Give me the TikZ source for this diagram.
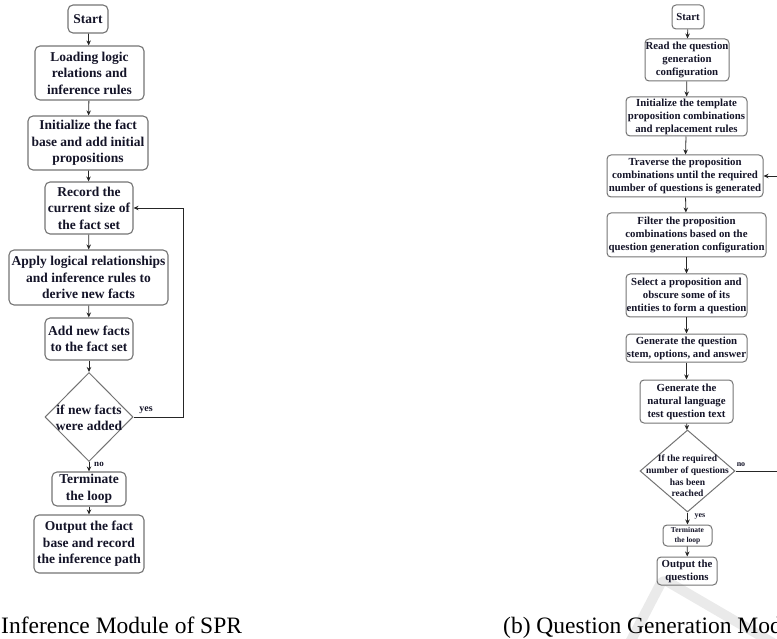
\documentclass[tikz,border=0pt]{standalone}
\usepackage{fontspec}
\setmainfont{Liberation Serif}
\usetikzlibrary{shapes.geometric,arrows.meta}
\definecolor{txt}{RGB}{20,20,40}
\definecolor{bord}{RGB}{115,115,115}
\definecolor{wm}{RGB}{234,234,234}
\begin{document}
\begin{tikzpicture}[x=1pt,y=-1pt,
  lbox/.style={draw=bord, line width=1.1pt, rounded corners=5pt, align=center, inner sep=0pt, text=txt,
    font=\bfseries\fontsize{13.5}{16.5}\selectfont},
  rbox/.style={draw=bord, line width=1pt, rounded corners=4pt, align=center, inner sep=0pt, text=txt,
    font=\bfseries\fontsize{10.8}{13}\selectfont},
  dia/.style={draw=bord, line width=1pt, diamond, inner sep=0pt},
  arr/.style={-{Stealth[length=5pt,width=4.5pt]}, line width=0.8pt, draw=black!85},
  lbl/.style={font=\bfseries\fontsize{8}{9}\selectfont, text=txt, inner sep=0pt},
  capt/.style={font=\fontsize{23.5}{26}\selectfont, inner sep=0pt, anchor=base west}]
\useasboundingbox (0,0) rectangle (777,639);
\clip (0,0) rectangle (777,639);
% watermark
\draw[wm, line width=10pt, rounded corners=6pt] (626,650) -- (663,579) -- (785,650);
% ---------- left chart ----------
\node[lbox, minimum width=40, minimum height=28] (lstart) at (88,19) {Start};
\node[lbox, minimum width=109, minimum height=54] (lload) at (89.5,73) {Loading logic\\relations and\\inference rules};
\node[lbox, minimum width=120, minimum height=54] (linit) at (88,143) {Initialize the fact\\base and add initial\\propositions};
\node[lbox, minimum width=88, minimum height=52] (lrec) at (89,208) {Record the\\current size of\\the fact set};
\node[lbox, minimum width=159, minimum height=55] (lapp) at (88.5,277.5) {Apply logical relationships\\and inference rules to\\derive new facts};
\node[lbox, minimum width=88, minimum height=42] (ladd) at (89,339) {Add new facts\\to the fact set};
\node[dia, minimum width=88, minimum height=89] (ldec) at (89,417) {};
\node[align=center, inner sep=0pt, text=txt, font=\bfseries\fontsize{13.5}{16.5}\selectfont] (ldect) at (89,418) {if new facts\\were added};
\node[lbox, minimum width=74, minimum height=34] (lterm) at (89,489) {Terminate\\the loop};
\node[lbox, minimum width=110, minimum height=58] (lout) at (89,544) {Output the fact\\base and record\\the inference path};
\draw[arr] (lstart) -- (lload);
\draw[arr] (lload) -- (linit);
\draw[arr] (linit) -- (lrec);
\draw[arr] (lrec) -- (lapp);
\draw[arr] (lapp) -- (ladd);
\draw[arr] (ladd) -- (ldec);
\draw[arr] (ldec) -- (lterm);
\draw[arr] (lterm) -- (lout);
\coordinate (lloop) at (183,417);
\draw[arr] (ldec.east) -- (lloop) |- (lrec.east);
\node[lbl, font=\bfseries\fontsize{10}{11}\selectfont] (lyes) at (146,410) {yes};
\node[lbl, font=\bfseries\fontsize{9}{10}\selectfont] (lno) at (99,464) {no};
\node[capt] (lcap) at (1,633) {Inference Module of SPR};
% ---------- right chart ----------
\node[rbox, minimum width=32, minimum height=24] (rstart) at (688,17) {Start};
\node[rbox, minimum width=84, minimum height=42] (rread) at (687,60) {Read the question\\generation\\configuration};
\node[rbox, minimum width=121, minimum height=39] (rinit) at (686.5,116.5) {Initialize the template\\proposition combinations\\and replacement rules};
\node[rbox, minimum width=156, minimum height=42] (rtrav) at (685,176) {Traverse the proposition\\combinations until the required\\number of questions is generated};
\node[rbox, minimum width=159, minimum height=44] (rfilt) at (686.5,235) {Filter the proposition\\combinations based on the\\question generation configuration};
\node[rbox, minimum width=121, minimum height=43] (rsel) at (686.5,295.5) {Select a proposition and\\obscure some of its\\entities to form a question};
\node[rbox, minimum width=121, minimum height=28] (rgen) at (686.5,348) {Generate the question\\stem, options, and answer};
\node[rbox, minimum width=93, minimum height=43] (rnat) at (686.5,401.5) {Generate the\\natural language\\test question text};
\node[dia, minimum width=95, minimum height=82] (rdec) at (687.5,471) {};
\node[align=center, inner sep=0pt, text=txt, font=\bfseries\fontsize{9.5}{11.7}\selectfont] (rdect) at (687.5,476) {If the required\\number of questions\\has been\\reached};
\node[rbox, minimum width=49, minimum height=21, font=\bfseries\fontsize{7.5}{10}\selectfont] (rterm) at (687.5,535.5) {Terminate\\the loop};
\node[rbox, minimum width=60, minimum height=28] (rout) at (687,571) {Output the\\questions};
\draw[arr] (rstart) -- (rread);
\draw[arr] (rread) -- (rinit);
\draw[arr] (rinit) -- (rtrav);
\draw[arr] (rtrav) -- (rfilt);
\draw[arr] (rfilt) -- (rsel);
\draw[arr] (rsel) -- (rgen);
\draw[arr] (rgen) -- (rnat);
\draw[arr] (rnat) -- (rdec);
\draw[arr] (rdec) -- (rterm);
\draw[arr] (rterm) -- (rout);
\coordinate (rloop) at (795,471);
\draw[arr] (rdec.east) -- (rloop) |- (rtrav.east);
\node[lbl] (rno) at (741,465) {no};
\node[lbl] (ryes) at (700,516) {yes};
\node[capt] (rcap) at (503,633) {(b) Question Generation Module};
\end{tikzpicture}
\end{document}
